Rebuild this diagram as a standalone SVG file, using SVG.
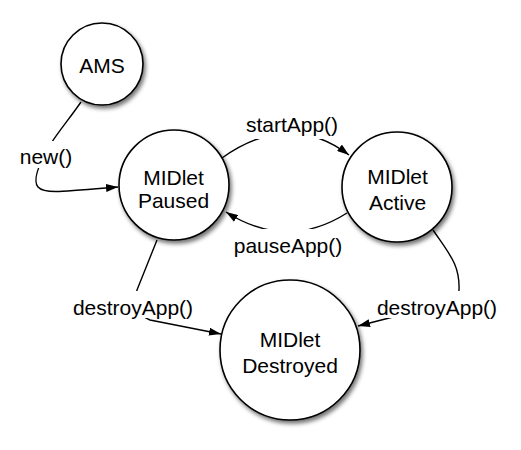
<svg xmlns="http://www.w3.org/2000/svg" width="521" height="450" viewBox="0 0 521 450">
<style>
.node{fill:#fff;stroke:#000;stroke-width:1.6;filter:url(#sh)}
.t{font-family:"Liberation Sans",Arial,sans-serif;font-size:21px;fill:#000;text-anchor:middle}
.c{fill:none;stroke:#000;stroke-width:1.4}
.bg{fill:#fff}
</style>
<defs>
<filter id="sh" x="-20%" y="-20%" width="150%" height="150%">
<feDropShadow dx="2" dy="3" stdDeviation="2.2" flood-color="#000" flood-opacity="0.55"/>
</filter>
<marker id="ah" viewBox="0 0 12 8" refX="12" refY="4" markerWidth="12" markerHeight="8" markerUnits="userSpaceOnUse" orient="auto">
<path d="M0,0 L12,4 L0,8 Z" fill="#000"/>
</marker>
</defs>
<rect width="521" height="450" fill="#fff"/>
<g id="connectors">
<path class="c" marker-end="url(#ah)" d="M81 102 C70 118 58 132 50 145 C40 162 32 180 38 187 C44 194 60 192 118 187"/>
<path class="c" marker-end="url(#ah)" d="M222 158 Q290 110 349 155"/>
<path class="c" marker-end="url(#ah)" d="M347 213 Q287 251 226 212"/>
<path class="c" marker-end="url(#ah)" d="M157 240 L137 290 C133 302 135 314 150 320 L221 334"/>
<path class="c" marker-end="url(#ah)" d="M433 230 C450 255 460 265 459 290 C458 310 420 312 393 317 L358 326"/>
</g>
<g id="labels">
<rect class="bg" x="18" y="141" width="58" height="27"/>
<text class="t" x="46" y="164">new()</text>
<rect class="bg" x="243" y="114" width="100" height="25"/>
<text class="t" x="292" y="132">startApp()</text>
<rect class="bg" x="230" y="229" width="118" height="30"/>
<text class="t" x="288" y="253">pauseApp()</text>
<rect class="bg" x="70" y="291" width="128" height="27"/>
<text class="t" x="133" y="315">destroyApp()</text>
<rect class="bg" x="373" y="291" width="128" height="27"/>
<text class="t" x="437" y="315">destroyApp()</text>
</g>
<g id="ams">
<circle class="node" cx="102" cy="64" r="41"/>
<text class="t" x="102" y="73">AMS</text>
</g>
<g id="paused">
<circle class="node" cx="174" cy="185" r="55"/>
<text class="t" x="173.5" y="184.5">MIDlet</text>
<text class="t" x="173.5" y="208">Paused</text>
</g>
<g id="active">
<circle class="node" cx="397" cy="187" r="55"/>
<text class="t" x="397.5" y="184">MIDlet</text>
<text class="t" x="397.5" y="210">Active</text>
</g>
<g id="destroyed">
<circle class="node" cx="290" cy="350" r="70"/>
<text class="t" x="290" y="347">MIDlet</text>
<text class="t" x="290" y="373">Destroyed</text>
</g>
</svg>
